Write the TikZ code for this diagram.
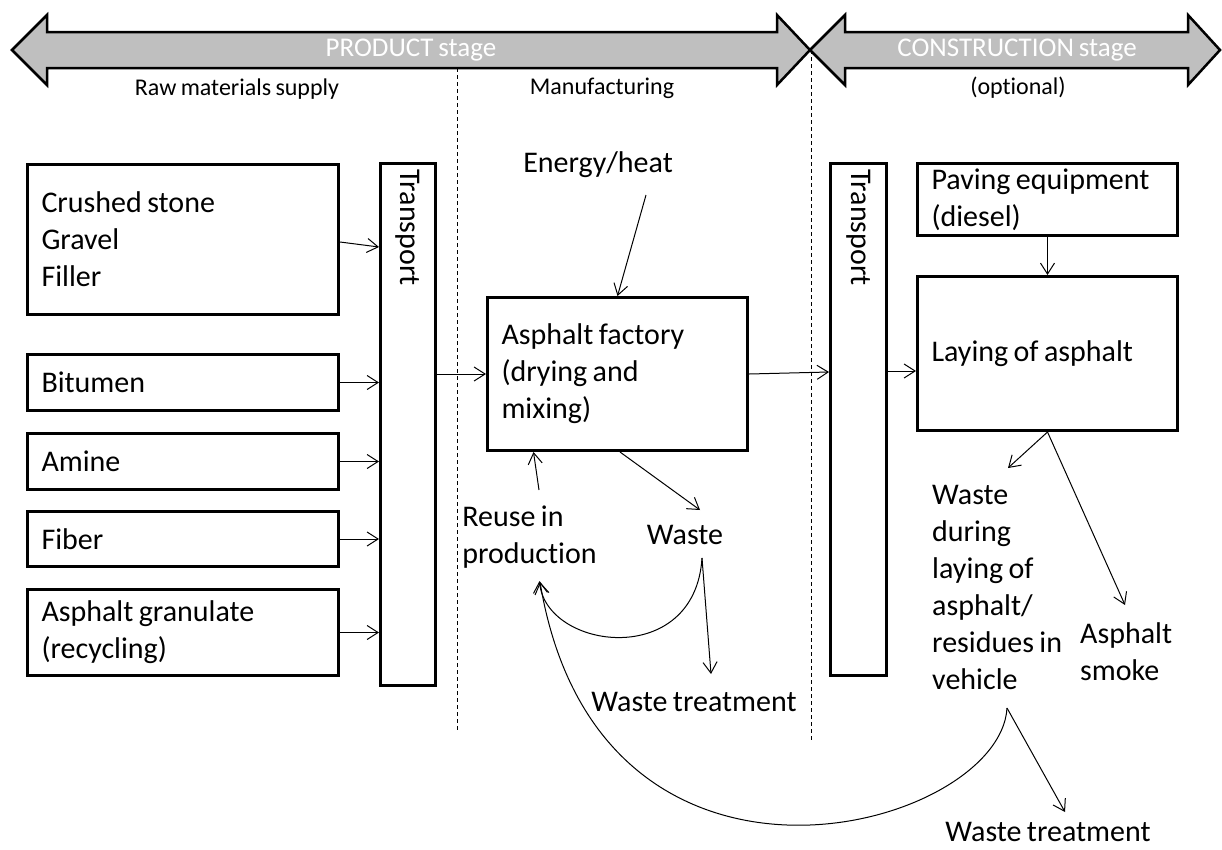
\documentclass[tikz,border=0pt]{standalone}
\usepackage{fontspec}
\setmainfont{Carlito}[Ligatures=NoCommon,WordSpace=0.8]
\usetikzlibrary{arrows.meta,calc}
\definecolor{stagegray}{RGB}{191,191,191}
\newcommand\bigfnt{\fontsize{30}{37}\selectfont}
\newcommand\stagefnt{\fontsize{27}{32}\selectfont}
\newcommand\subfnt{\fontsize{24}{29}\selectfont}
\begin{document}
\begin{tikzpicture}[x=1pt,y=-1pt,
  box/.style={draw, line width=3pt, inner xsep=14pt, inner ysep=0pt, align=flush left, font=\bigfnt},
  lbl/.style={inner sep=0pt, align=flush left, font=\bigfnt},
  stagearrow/.style={draw, fill=stagegray, line width=2.5pt, line join=miter},
  stagelbl/.style={inner sep=0pt, text=white, font=\stagefnt},
  sublbl/.style={inner sep=0pt, font=\subfnt},
  dashline/.style={line width=1pt, dash pattern=on 4pt off 3pt},
  arr/.style={-{Straight Barb[length=11pt,width=14pt]}, line width=1pt}]
\useasboundingbox (0,0) rectangle (1222,849);
\fill[white] (0,0) rectangle (1222,849);

% dashed separators
\draw[dashline] (457,68) -- (457,730);
\draw[dashline] (811,50) -- (811,740);

% stage arrows
\draw[stagearrow] (12,50) -- (47,15) -- (47,32) -- (777,32) -- (777,15) -- (810,50) -- (777,85) -- (777,68) -- (47,68) -- (47,85) -- cycle;
\draw[stagearrow] (810,50) -- (845,15) -- (845,32) -- (1188,32) -- (1188,15) -- (1220,50) -- (1188,85) -- (1188,68) -- (845,68) -- (845,85) -- cycle;
\node[stagelbl] (prod) at (411,50) {PRODUCT stage};
\node[stagelbl] (constr) at (1017,50) {CONSTRUCTION stage};
\node[sublbl] (raw) at (237,89) {Raw materials supply};
\node[sublbl] (manu) at (602,88) {Manufacturing};
\node[sublbl] (opt) at (1018,88) {(optional)};

% raw material boxes
\node[box, minimum width=311pt, minimum height=150pt, text width=283pt] (crushed) at (183,239) {Crushed stone\\Gravel\\Filler};
\node[box, minimum width=311pt, minimum height=56pt, text width=283pt] (bitumen) at (183,382.5) {Bitumen};
\node[box, minimum width=311pt, minimum height=56pt, text width=283pt] (amine) at (183,461.5) {Amine};
\node[box, minimum width=311pt, minimum height=55pt, text width=283pt] (fiber) at (183,539) {Fiber};
\node[box, minimum width=311pt, minimum height=86pt, text width=283pt] (granulate) at (183,632.5) {Asphalt granulate\\(recycling)};

% transport 1
\node[box, minimum width=55pt, minimum height=522pt, inner sep=0pt] (t1) at (408,424.5) {};
\node[lbl, rotate=-90, anchor=west] (t1txt) at ($(t1.north)+(0,7)$) {Transport};

% factory
\node[box, minimum width=260pt, minimum height=153pt, text width=232pt] (factory) at (617.5,374) {Asphalt factory\\(drying and\\mixing)};
\node[lbl] (energy) at (598,165) {Energy/heat};
\node[lbl] (reuse) at (529.5,537) {Reuse in\\production};
\node[lbl] (waste) at (685,535) {Waste};
\node[lbl] (wt1) at (694,702) {Waste treatment};

% transport 2
\node[box, minimum width=56pt, minimum height=512pt, inner sep=0pt] (t2) at (858.5,419.5) {};
\node[lbl, rotate=-90, anchor=west] (t2txt) at ($(t2.north)+(0,7)$) {Transport};

% construction
\node[box, minimum width=260pt, minimum height=72pt, text width=232pt] (paving) at (1047.5,199.5) {Paving equipment\\(diesel)};
\node[box, minimum width=260pt, minimum height=154pt, text width=232pt] (laying) at (1047.5,353.5) {Laying of asphalt};
\node[lbl, anchor=west] (wdl) at (932,587.5) {Waste\\during\\laying of\\asphalt/\\residues in\\vehicle};
\node[lbl, anchor=west] (smoke) at (1080,651.5) {Asphalt\\smoke};
\node[lbl] (wt2) at (1048,832) {Waste treatment};

% connectors: raw materials -> transport
\draw[arr] ($(crushed.east)+(0,3)$) -- ($(crushed.east -| t1.west)+(0,8)$);
\draw[arr] (bitumen.east) -- (bitumen.east -| t1.west);
\draw[arr] (amine.east) -- (amine.east -| t1.west);
\draw[arr] (fiber.east) -- (fiber.east -| t1.west);
\draw[arr] (granulate.east) -- (granulate.east -| t1.west);

% manufacturing
\draw[arr] (t1.east |- factory.west) -- (factory.west);
\draw[arr] ($(energy)+(48,30)$) -- (factory.north);
\draw[arr] (factory.east) -- ($(factory.east -| t2.west)+(0,-2)$);
\draw[arr] ($(factory.south)+(2.5,0)$) -- ($(waste)+(15,-25)$);
\draw[arr] ($(reuse)+(9.5,-47)$) -- ($(factory.south west)+(47.5,0)$);
\draw[arr] ($(waste)+(17,23)$) -- ($(wt1)+(17,-28)$);
\draw[arr] ($(waste)+(17,23)$) .. controls ($(waste)+(10,135)$) and ($(reuse)+(15.5,113)$) .. ($(reuse)+(10,44)$);

% construction
\coordinate (lin) at ($(laying.west)+(0,17.5)$);
\draw[arr] (t2.east |- lin) -- (lin);
\draw[arr] (paving.south) -- (laying.north);
\draw[arr] (laying.south) -- ($(wdl.west)+(76,-119.5)$);
\draw[arr] (laying.south) -- ($(smoke.west)+(45,-46.5)$);
\draw[arr] ($(wdl.west)+(75,120.5)$) -- ($(wt2)+(17,-20)$);
\draw[arr] ($(wdl.west)+(75,120.5)$) .. controls ($(wdl.west)+(68,242.5)$) and ($(reuse)+(70.5,403)$) .. ($(reuse)+(10.5,45)$);
\end{tikzpicture}
\end{document}
